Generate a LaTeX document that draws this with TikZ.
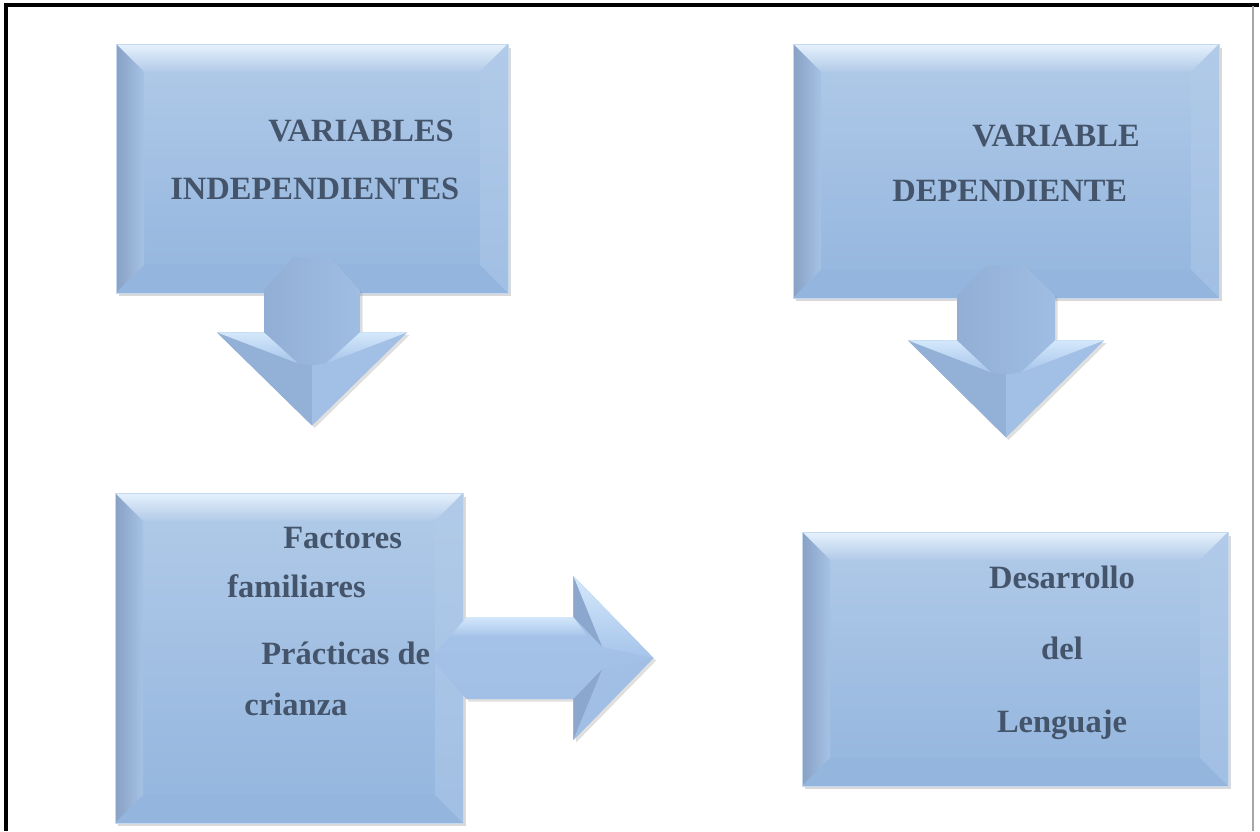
\documentclass[tikz,border=0pt]{standalone}
\usepackage{fontspec}
\setmainfont{Liberation Serif}
\usetikzlibrary{calc,shadows}

\definecolor{facetop}{RGB}{177,202,232}
\definecolor{facebot}{RGB}{147,181,222}
\definecolor{bevlight}{RGB}{230,241,252}
\definecolor{bevleft}{RGB}{136,161,197}
\definecolor{bevright}{RGB}{165,194,229}
\definecolor{bevbottom}{RGB}{148,182,222}
\definecolor{edgeblue}{RGB}{196,216,240}
\definecolor{txtslate}{RGB}{68,84,106}
\definecolor{arrowdark}{RGB}{139,167,205}
\definecolor{arrowlight}{RGB}{166,196,234}
\definecolor{arrowwing}{RGB}{212,232,251}

\tikzset{
  bevelbox/.style={rectangle, draw=edgeblue, line width=0.5pt, inner sep=0pt,
    top color=facetop, bottom color=facebot,
    drop shadow={shadow xshift=1.8pt, shadow yshift=-2pt, opacity=0.3},
    path picture={
      \coordinate (bnw) at (path picture bounding box.north west);
      \coordinate (bne) at (path picture bounding box.north east);
      \coordinate (bsw) at (path picture bounding box.south west);
      \coordinate (bse) at (path picture bounding box.south east);
      \shade[top color=bevlight, bottom color=facetop] (bnw) -- (bne) -- ($(bne)+(-28,28)$) -- ($(bnw)+(28,28)$) -- cycle;
      \shade[left color=bevleft, right color=facetop!60!facebot] (bnw) -- ($(bnw)+(28,28)$) -- ($(bsw)+(28,-28)$) -- (bsw) -- cycle;
      \shade[top color=facetop, bottom color=bevright!80!facebot] (bne) -- ($(bne)+(-28,28)$) -- ($(bse)+(-28,-28)$) -- (bse) -- cycle;
      \fill[bevbottom] (bsw) -- ($(bsw)+(28,-28)$) -- ($(bse)+(-28,-28)$) -- (bse) -- cycle;
    }},
  boxtext/.style={font=\fontsize{18.5}{20}\selectfont\bfseries, text=txtslate, inner sep=0pt, anchor=base west},
  arrowshadow/.style={drop shadow={shadow xshift=1.5pt, shadow yshift=-1.5pt, opacity=0.25}},
}

\begin{document}
\begin{tikzpicture}[x=0.02cm, y=-0.02cm]
\useasboundingbox (0,0) rectangle (1260,831);

% Frame
\draw[line width=1.9pt] (1259,5) -- (6,5) -- (6,831);
\draw[gray!70, line width=0.6pt] (1253,6) -- (1253,831);

% Boxes
\node[bevelbox, minimum width=7.84cm, minimum height=4.98cm] (indepbox) at (312,168.5) {};
\node[bevelbox, minimum width=8.52cm, minimum height=5.08cm] (depbox) at (1006,171) {};
\node[bevelbox, minimum width=6.96cm, minimum height=6.6cm] (factbox) at (289,658) {};
\node[bevelbox, minimum width=8.52cm, minimum height=5.08cm] (langbox) at (1015,659) {};

% Down arrow (independientes)
\begin{scope}[shift={(indepbox.south)}]
  \shade[left color=arrowdark, right color=arrowlight, arrowshadow] (-19,-36) -- (19,-36) -- (48,-3) -- (48,39) -- (95,39) -- (0,132) -- (-95,39) -- (-48,39) -- (-48,-3) -- cycle;
  \fill[arrowdark!70!arrowlight] (-95,39) -- (-14,70) -- (0,72) -- (0,132) -- cycle;
  \fill[arrowlight!85!arrowdark] (95,39) -- (14,70) -- (0,72) -- (0,132) -- cycle;
  \shade[top color=arrowwing, bottom color=arrowlight] (-95,39) -- (-48,39) -- (-14,70) -- cycle;
  \shade[top color=arrowwing, bottom color=arrowlight] (95,39) -- (48,39) -- (14,70) -- cycle;
\end{scope}

% Down arrow (dependiente)
\begin{scope}[shift={(depbox.south)}]
  \shade[left color=arrowdark, right color=arrowlight, arrowshadow] (-19,-33) -- (19,-33) -- (49,-3) -- (49,42) -- (98,42) -- (0,139) -- (-98,42) -- (-49,42) -- (-49,-3) -- cycle;
  \fill[arrowdark!70!arrowlight] (-98,42) -- (-15,74) -- (0,76) -- (0,139) -- cycle;
  \fill[arrowlight!85!arrowdark] (98,42) -- (15,74) -- (0,76) -- (0,139) -- cycle;
  \shade[top color=arrowwing, bottom color=arrowlight] (-98,42) -- (-49,42) -- (-15,74) -- cycle;
  \shade[top color=arrowwing, bottom color=arrowlight] (98,42) -- (49,42) -- (15,74) -- cycle;
\end{scope}

% Right arrow (factores -> desarrollo)
\begin{scope}[shift={(factbox.east)}]
  \shade[top color=arrowlight, bottom color=arrowlight!80!arrowdark, arrowshadow] (-28,-5) -- (3,-41) -- (110,-41) -- (110,-82) -- (190,0) -- (110,82) -- (110,41) -- (3,41) -- (-28,5) -- cycle;
  \shade[top color=arrowwing, bottom color=arrowlight] (3,-41) -- (110,-41) -- (124,-22) -- (-13,-22) -- cycle;
  \fill[arrowdark] (110,-82) -- (110,-41) -- (139,-11) -- cycle;
  \fill[arrowdark] (110,82) -- (110,41) -- (139,11) -- cycle;
  \shade[top color=arrowwing, bottom color=arrowlight] (110,-82) -- (190,0) -- (139,-11) -- cycle;
  \fill[arrowlight!80!arrowdark] (110,82) -- (190,0) -- (139,11) -- cycle;
\end{scope}

% Texts
\node[boxtext] (indepA) at (268,142) {VARIABLES};
\node[boxtext] (indepB) at (170,199) {INDEPENDIENTES};
\node[boxtext] (depA) at (972,147) {VARIABLE};
\node[boxtext] (depB) at (892,202) {DEPENDIENTE};
\node[boxtext] (factA) at (283,548) {Factores};
\node[boxtext] (factB) at (227,597) {familiares};
\node[boxtext] (factC) at (261,664) {Prácticas de};
\node[boxtext] (factD) at (244,715) {crianza};
\node[boxtext, anchor=base] (langA) at (1062,588) {Desarrollo};
\node[boxtext, anchor=base] (langB) at (1062,659) {del};
\node[boxtext, anchor=base] (langC) at (1062,732) {Lenguaje};
\end{tikzpicture}
\end{document}
